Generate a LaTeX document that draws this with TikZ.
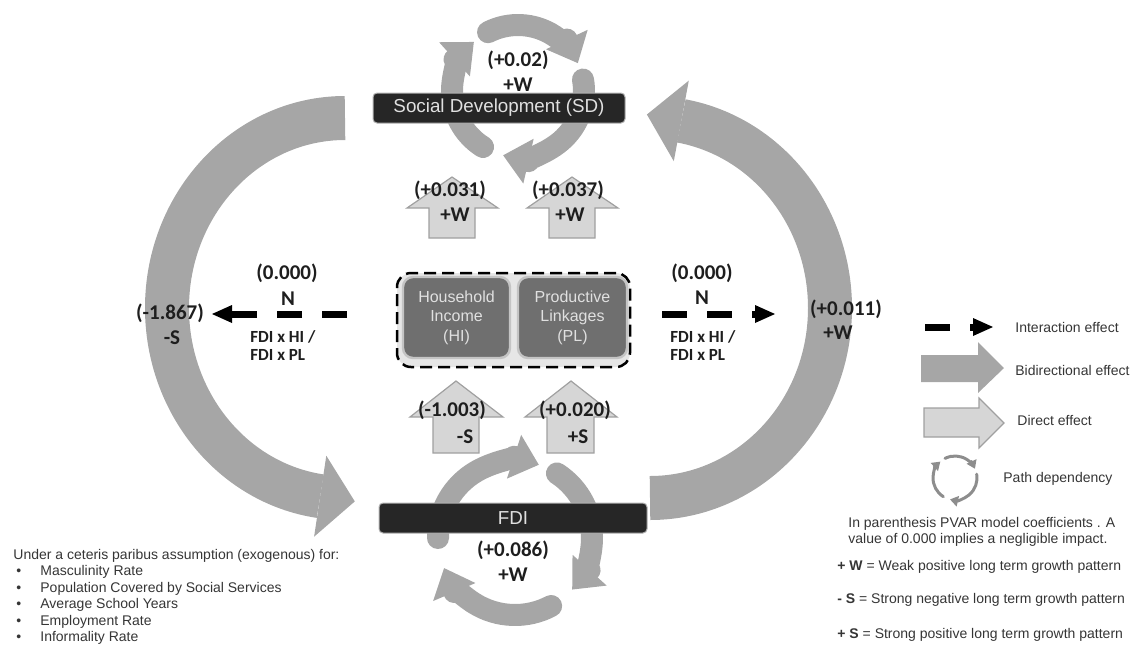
\documentclass[tikz,border=0pt]{standalone}
\usepackage{fontspec}
\setmainfont{Liberation Sans}
\newfontfamily\numfont{Carlito}
\usetikzlibrary{arrows.meta, positioning}

\definecolor{arcgray}{HTML}{A6A6A6}
\definecolor{boxdark}{HTML}{262626}
\definecolor{linkfill}{HTML}{6F6F6F}
\definecolor{linkedge}{HTML}{C4C4C4}
\definecolor{groupfill}{HTML}{E6E6E6}
\definecolor{directfill}{HTML}{D6D6D6}
\definecolor{directedge}{HTML}{A0A0A0}
\definecolor{txtdark}{HTML}{1E1E1E}

\newcommand{\listdot}{\makebox[13.5pt][l]{\hspace{1.5pt}\textbullet}}

\tikzset{
  bigarc/.style={draw=arcgray, line width=22pt},
  bighead/.style={fill=arcgray},
  ring/.style={draw=arcgray, line width=11pt, line cap=round,
    -{Triangle[length=13pt, width=23pt, line width=0pt]}},
  minring/.style={draw=arcgray!85!black, line width=1.5pt, line cap=round,
    -{Triangle[length=4pt, width=5.5pt, line width=0pt]}},
  factor/.style={draw=gray!60, line width=0.5pt, fill=boxdark, rounded corners=2pt,
    text=white!88!black, font=\fontsize{9.4}{11}\selectfont, inner sep=0pt},
  link/.style={draw=linkedge, line width=1.2pt, fill=linkfill, rounded corners=5pt,
    text=white!88!black, align=center, font=\fontsize{8}{9.75}\selectfont,
    minimum height=40.5pt, inner sep=0pt},
  group/.style={draw=black, line width=1.25pt, dash pattern=on 6pt off 3pt,
    fill=groupfill, rounded corners=7pt, minimum width=116.5pt, minimum height=47pt},
  direct/.style={draw=directedge, line width=0.6pt, fill=directfill},
  interact/.style={line width=3.5pt, dash pattern=on 12.5pt off 10pt,
    -{Triangle[length=10pt, width=9pt, line width=0pt]}},
  num/.style={font=\numfont\bfseries\fontsize{10.5}{12.5}\selectfont, text=txtdark, inner sep=0pt},
  pair/.style={font=\numfont\bfseries\fontsize{8.5}{9}\selectfont, align=left, text=txtdark, inner sep=0pt},
  note/.style={font=\fontsize{7}{8.2}\selectfont, text=txtdark!90!white, inner sep=0pt, align=left},
}

\begin{document}
\begin{tikzpicture}[x=0.5pt, y=-0.5pt]
  \useasboundingbox (0,0) rectangle (1142,644);
  % Bidirectional arcs: SD -> FDI (left), FDI -> SD (right)
  \draw[bigarc] (345,118) arc[start angle=-90, end angle=-262, x radius=178, y radius=190];
  \fill[bighead] (326.3,455.7) -- (354.8,501.4) -- (314.1,536.7) -- cycle;
  \draw[bigarc] (650,498) arc[start angle=90, end angle=-80, x radius=180, y radius=190];
  \fill[bighead] (688.8,80.6) -- (646.9,114.5) -- (673.8,161.2) -- cycle;
  % Path dependency of SD
  \draw[ring] (518,91) ++(122:66) arc[start angle=122, end angle=228, radius=66];
  \draw[ring] (518,91) ++(243:66) arc[start angle=243, end angle=335, radius=66];
  \draw[ring] (518,91) ++(-10:66) arc[start angle=-10, end angle=103, radius=66];
  % Path dependency of FDI
  \draw[ring] (515,538) ++(180:77) arc[start angle=180, end angle=288, radius=77];
  \draw[ring] (515,538) ++(303:77) arc[start angle=303, end angle=402, radius=77];
  \draw[ring] (515,538) ++(62:77) arc[start angle=62, end angle=157, radius=77];
  % Factors
  \node[factor, minimum width=126pt, minimum height=15pt] (sd) at (499,108) {Social Development (SD)};
  \node[factor, minimum width=134pt, minimum height=15pt] (fdi) at (513,518) {FDI};
  \node[group] (links) at (513.5,320) {};
  \node[link, minimum width=53.5pt] (hi) at (456.5,317.5) {Household\\Income\\(HI)};
  \node[link, minimum width=54.5pt] (pl) at (572.5,317.5) {Productive\\Linkages\\(PL)};
  % Direct effects
  \draw[direct] (429,238) -- (429,208) -- (407,208) -- (452,177) -- (498,208) -- (475,208) -- (475,238) -- cycle;
  \draw[direct] (549,238) -- (549,208) -- (527,208) -- (572,177) -- (618,208) -- (595,208) -- (595,238) -- cycle;
  \draw[direct] (433,453) -- (433,417) -- (410,417) -- (456,381) -- (503,417) -- (479,417) -- (479,453) -- cycle;
  \draw[direct] (547,453) -- (547,417) -- (525,417) -- (571,381) -- (617,417) -- (594,417) -- (594,453) -- cycle;
  % Interaction effects
  \coordinate (ileft) at (347,314);
  \coordinate (ltip) at (212,314);
  \draw[interact] (ileft) -- (ltip);
  \coordinate (iright) at (662,314);
  \coordinate (rtip) at (775,314);
  \draw[interact] (iright) -- (rtip);
  % Coefficients
  \node[num] (sdval) at (518,60) {(+0.02)};
  \node[num] (sdsign) at (518,85) {+W};
  \node[num] (hisd) at (450,190) {(+0.031)};
  \node[num] (hisdw) at (455,215) {+W};
  \node[num] (plsd) at (568,190) {(+0.037)};
  \node[num] (plsdw) at (570,215) {+W};
  \node[num] (fdihi) at (452,410) {(-1.003)};
  \node[num] (fdihis) at (465,437) {-S};
  \node[num] (fdipl) at (575,410) {(+0.020)};
  \node[num] (fdipls) at (578,437) {+S};
  \node[num] (fdival) at (513,550) {(+0.086)};
  \node[num] (fdisign) at (513,575) {+W};
  \node[num] (lval) at (287,273) {(0.000)};
  \node[num] (lsign) at (288,299) {N};
  \node[pair, anchor=west] (lpair) at (250,346) {FDI x HI /\\FDI x PL};
  \node[num] (rval) at (702,273) {(0.000)};
  \node[num] (rsign) at (702,298) {N};
  \node[pair, anchor=west] (rpair) at (670,346) {FDI x HI /\\FDI x PL};
  \node[num] (sdfdi) at (170,313) {(-1.867)};
  \node[num] (sdfdis) at (172,338) {-S};
  \node[num] (fdisd) at (846,309) {(+0.011)};
  \node[num] (fdisds) at (838,333) {+W};
  % Legend
  \coordinate (kstart) at (925,327);
  \coordinate (kend) at (993,327);
  \draw[interact] (kstart) -- (kend);
  \node[note, anchor=west] (kinter) at (1015,327) {Interaction effect};
  \fill[arcgray] (921,355) -- (978,355) -- (978,342) -- (1004,368) -- (978,393) -- (978,382) -- (921,382) -- cycle;
  \node[note, anchor=west] (kbidir) at (1015,370) {Bidirectional effect};
  \draw[direct] (924,408) -- (979,408) -- (979,398) -- (1004,423) -- (979,448) -- (979,437) -- (924,437) -- cycle;
  \node[note, anchor=west] (kdirect) at (1017,420) {Direct effect};
  \draw[minring] (955,478) ++(122:22) arc[start angle=122, end angle=228, radius=22];
  \draw[minring] (955,478) ++(243:22) arc[start angle=243, end angle=335, radius=22];
  \draw[minring] (955,478) ++(-10:22) arc[start angle=-10, end angle=103, radius=22];
  \node[note, anchor=west] (kpath) at (1003,479) {Path dependency};
  % Notes
  \node[note, anchor=north west, font=\fontsize{7}{8}\selectfont] (coef) at (848,517)
    {In parenthesis PVAR model coefficients . A\\value of 0.000 implies a negligible impact.};
  \node[note, anchor=west] (wkey) at (837,567) {\textbf{+ W} = Weak positive long term growth pattern};
  \node[note, anchor=west] (snkey) at (837,600) {\textbf{- S} = Strong negative long term growth pattern};
  \node[note, anchor=west] (spkey) at (837,635) {\textbf{+ S} = Strong positive long term growth pattern};
  \node[note, anchor=north west] (ceteris) at (13,549)
    {Under a ceteris paribus assumption (exogenous) for:\\
     \listdot Masculinity Rate\\
     \listdot Population Covered by Social Services\\
     \listdot Average School Years\\
     \listdot Employment Rate\\
     \listdot Informality Rate};
\end{tikzpicture}
\end{document}
